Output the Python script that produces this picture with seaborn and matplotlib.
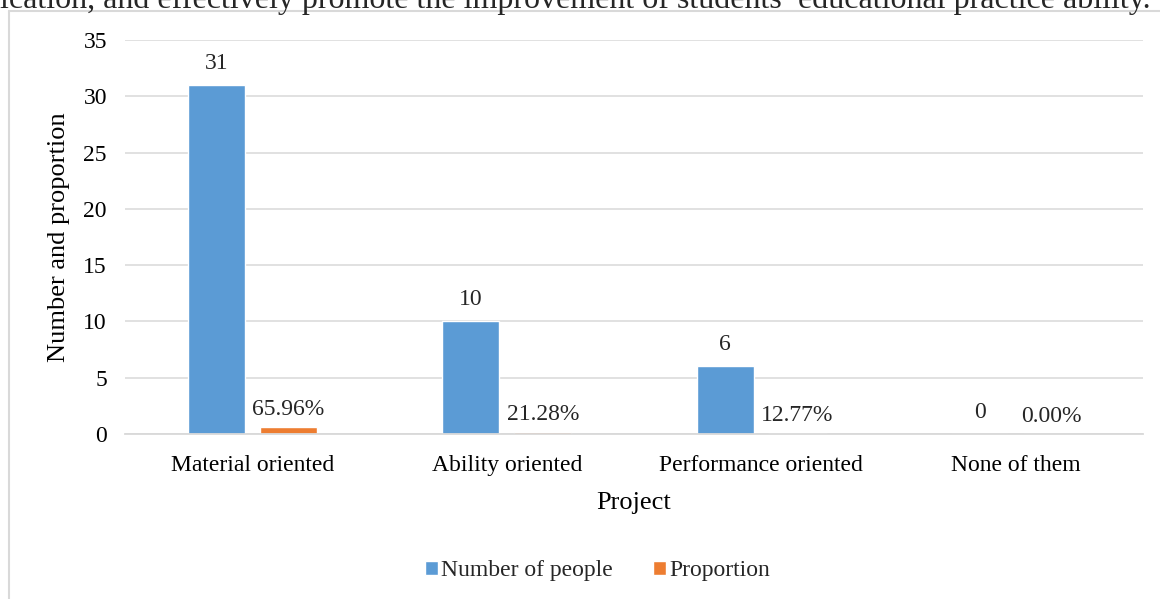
import matplotlib
matplotlib.use("Agg")
import matplotlib.pyplot as plt
from matplotlib.lines import Line2D
import seaborn as sns
import pandas as pd

# data
projects = ["Material oriented", "Ability oriented", "Performance oriented", "None of them"]
people = [31, 10, 6, 0]
proportion = [0.6596, 0.2128, 0.1277, 0.0]
series = ["Number of people", "Proportion"]
y_ticks = [0, 5, 10, 15, 20, 25, 30, 35]
top_line = "ication, and effectively promote the improvement of students\u2019 educational practice ability."

sns.set_theme(style="white")
plt.rcParams["font.family"] = ["Liberation Serif", "DejaVu Serif"]

df = pd.DataFrame({
    "project": projects * 2,
    "series": [series[0]] * 4 + [series[1]] * 4,
    "value": people + proportion,
})

fig = plt.figure(figsize=(11.6, 5.99), dpi=100)
ax = fig.add_axes([0.1078, 0.2755, 0.8775, 0.6577])

sns.barplot(data=df, x="project", y="value", hue="series",
            palette=["#5B9BD5", "#ED7D31"], width=0.566, gap=0.21,
            saturation=1, ax=ax)

ax.set_ylim(0, 35)
ax.set_yticks(y_ticks)
ax.set_xlim(-0.5, 3.5)
ax.yaxis.grid(True, color="#D9D9D9", linewidth=1.1)
ax.set_axisbelow(True)
for s in ["top", "right", "left"]:
    ax.spines[s].set_visible(False)
ax.spines["bottom"].set_color("#D9D9D9")
ax.spines["bottom"].set_linewidth(1.3)
ax.tick_params(axis="both", length=0, labelsize=17, colors="black")
ax.tick_params(axis="y", pad=13)
ax.tick_params(axis="x", pad=15)

ax.set_xlabel("Project", fontsize=19, color="black")
ax.set_ylabel("Number and proportion", fontsize=19, color="black")
ax.xaxis.set_label_coords(0.5, -0.148)
ax.yaxis.set_label_coords(-0.054, 0.5)

ax.bar_label(ax.containers[0], labels=[f"{v:.0f}" for v in people],
             padding=8, fontsize=17)
ax.bar_label(ax.containers[1], labels=[f"{v:.2%}" for v in proportion],
             padding=5, fontsize=17)

handles, labels = ax.get_legend_handles_labels()
ax.legend(handles, labels, loc="center", bbox_to_anchor=(0.515, 0.047),
          bbox_transform=fig.transFigure, ncol=2, frameon=False,
          fontsize=17, handlelength=0.55, handleheight=0.55,
          handletextpad=0.15, columnspacing=1.7)

# chart border and clipped body text from the page
fig.add_artist(Line2D([8.5 / 1160, 8.5 / 1160], [0, 1 - 11 / 599],
                      color="#D9D9D9", linewidth=1.5, transform=fig.transFigure))
fig.add_artist(Line2D([8.5 / 1160, 1], [1 - 11 / 599, 1 - 11 / 599],
                      color="#D9D9D9", linewidth=1.5, transform=fig.transFigure))
fig.text(0.0, 1 - 8 / 599, top_line, fontsize=23, ha="left", va="baseline")

fig.savefig("out.png", dpi=100)
